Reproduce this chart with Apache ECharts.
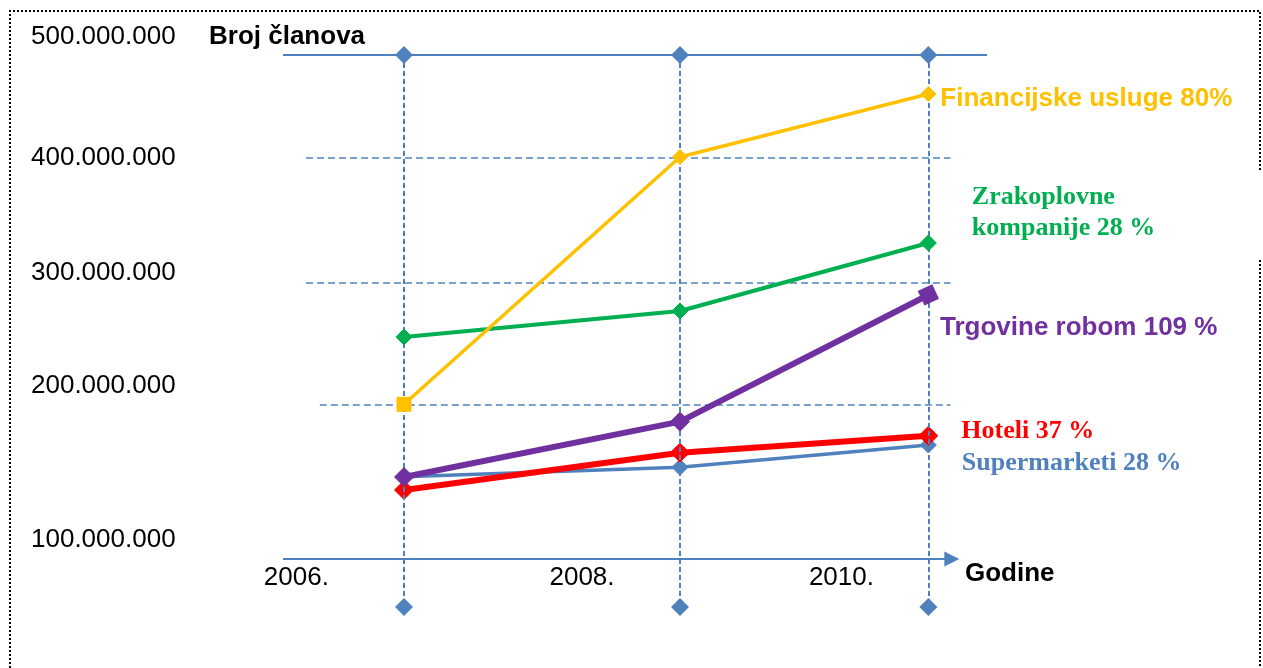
<!DOCTYPE html>
<html>
<head>
<meta charset="utf-8">
<script src="https://cdn.jsdelivr.net/npm/echarts@6/dist/echarts.min.js"></script>
<style>
  html, body { margin: 0; padding: 0; background: #fff; }
  #chart { width: 1263px; height: 668px; }
</style>
</head>
<body>
<div id="chart"></div>
<script>
// x positions of the three measurements (years) and member counts in millions
const years = [2007, 2009, 2010.8];
const financijske = [200.6, 400.8, 451.8];
const zrakoplovne = [255.1, 276.1, 331.2];
const trgovine = [141.7, 186.5, 289.1];
const hoteli = [131.2, 161.4, 175.1];
const supermarketi = [141.9, 149.6, 167.6];

const yTickLabels = ['100.000.000', '200.000.000', '300.000.000', '400.000.000', '500.000.000'];
const yTickAt = [91.1, 215.4, 307.3, 400.4, 498.0];
const xTickLabels = ['2006.', '2008.', '2010.'];
const xTickAt = [2006.22, 2008.29, 2010.17];

const blue = '#4f81bd';
const sans = '"Liberation Sans", Arial, sans-serif';
const serif = '"Liberation Serif", "Times New Roman", serif';

function lineSeries(name, values, color, width, z, symSize, labelCfg, special) {
  return {
    name: name,
    type: 'line',
    z: z,
    symbol: 'diamond',
    symbolSize: symSize,
    lineStyle: { color: color, width: width },
    itemStyle: { color: color, borderColor: color, borderWidth: 1, opacity: 1 },
    emphasis: { disabled: true },
    data: values.map(function (v, i) {
      const item = { value: [years[i], v] };
      if (special && special[i]) Object.assign(item, special[i]);
      if (i === values.length - 1) {
        item.label = Object.assign({
          show: true,
          position: 'right',
          color: color,
          fontWeight: 'bold',
          fontSize: 26,
          fontFamily: sans,
          formatter: function () { return name; }
        }, labelCfg);
      }
      return item;
    })
  };
}

function nearestIdx(arr, v) {
  let best = 0;
  arr.forEach(function (a, i) { if (Math.abs(a - v) < Math.abs(arr[best] - v)) best = i; });
  return best;
}

const dashH = { color: blue, width: 1.5, type: [7, 4] };
const dashV = { color: blue, width: 2, type: [5, 3] };

const refLines = [
  // top solid line
  [{ coord: [2006.123, 483.4], symbol: 'none', lineStyle: { color: blue, width: 2, type: 'solid' } },
   { coord: [2011.225, 483.4], symbol: 'none' }],
  // dashed grid lines
  [{ coord: [2006.29, 400], symbol: 'none', lineStyle: dashH }, { coord: [2010.96, 400], symbol: 'none' }],
  [{ coord: [2006.29, 299], symbol: 'none', lineStyle: dashH }, { coord: [2010.96, 299], symbol: 'none' }],
  [{ coord: [2006.39, 200.5], symbol: 'none', lineStyle: dashH }, { coord: [2010.96, 200.5], symbol: 'none' }],
  // x axis with arrow
  [{ coord: [2006.123, 75.3], symbol: 'none', lineStyle: { color: blue, width: 2, type: 'solid' } },
   { coord: [2010.97, 75.3], symbol: 'triangle', symbolSize: [15, 15] }]
];
years.forEach(function (x) {
  refLines.push([
    { coord: [x, 483.4], symbol: 'diamond', symbolSize: 18, lineStyle: dashV },
    { coord: [x, 36.4], symbol: 'diamond', symbolSize: 18 }
  ]);
});

const chart = echarts.init(document.getElementById('chart'));
chart.setOption({
  animation: false,
  backgroundColor: '#fff',
  grid: { left: 283, top: 34.5, width: 704, height: 617.5, containLabel: false },
  xAxis: {
    type: 'value',
    min: 2006.123,
    max: 2011.225,
    offset: -93,
    axisLine: { show: false },
    axisTick: { show: false },
    splitLine: { show: false },
    axisLabel: {
      customValues: xTickAt,
      margin: 6,
      fontSize: 26,
      fontFamily: sans,
      color: '#000',
      formatter: function (v) { return xTickLabels[nearestIdx(xTickAt, v)]; }
    }
  },
  yAxis: {
    type: 'value',
    min: 0,
    max: 500,
    axisLine: { show: false },
    axisTick: { show: false },
    splitLine: { show: false },
    axisLabel: {
      customValues: yTickAt,
      align: 'left',
      margin: 252,
      fontSize: 26,
      fontFamily: sans,
      color: '#000',
      formatter: function (v) { return yTickLabels[nearestIdx(yTickAt, v)]; }
    }
  },
  graphic: [
    { type: 'polyline', silent: true, shape: { points: [[10, 668], [10, 11], [1260, 11], [1260, 170]] },
      style: { fill: null, stroke: '#000', lineWidth: 2, lineDash: [2, 2] } },
    { type: 'line', silent: true, shape: { x1: 1260, y1: 260, x2: 1260, y2: 668 },
      style: { stroke: '#000', lineWidth: 2, lineDash: [2, 2] } },
    { type: 'text', left: 209, top: 24, style: { text: 'Broj članova', fill: '#000', font: 'bold 26px ' + sans } },
    { type: 'text', left: 965, top: 561, style: { text: 'Godine', fill: '#000', font: 'bold 26px ' + sans } }
  ],
  series: [
    {
      type: 'line',
      z: 1,
      silent: true,
      data: [],
      markLine: { silent: true, animation: false, label: { show: false }, data: refLines }
    },
    lineSeries('Supermarketi 28 %', supermarketi, blue, 3.5, 3, 16,
      { fontFamily: serif, offset: [20, 18] }),
    lineSeries('Hoteli 37 %', hoteli, '#ff0000', 6, 4, 19,
      { fontFamily: serif, offset: [18, -4] }),
    lineSeries('Trgovine robom 109 %', trgovine, '#7030a0', 6, 5, 19,
      { offset: [-4, 33] }, [null, null, { symbol: 'rect', symbolSize: 15, symbolRotate: 25 }]),
    lineSeries('Zrakoplovne\nkompanije 28 %', zrakoplovne, '#00b050', 4, 6, 16,
      { fontFamily: serif, lineHeight: 31, offset: [30, -30] }),
    lineSeries('Financijske usluge 80%', financijske, '#ffc000', 3.5, 7, 15,
      { offset: [-1, 5] }, [{ symbol: 'rect', symbolSize: 14 }, null, null])
  ]
});
window.addEventListener('resize', function () { chart.resize(); });
</script>
</body>
</html>
